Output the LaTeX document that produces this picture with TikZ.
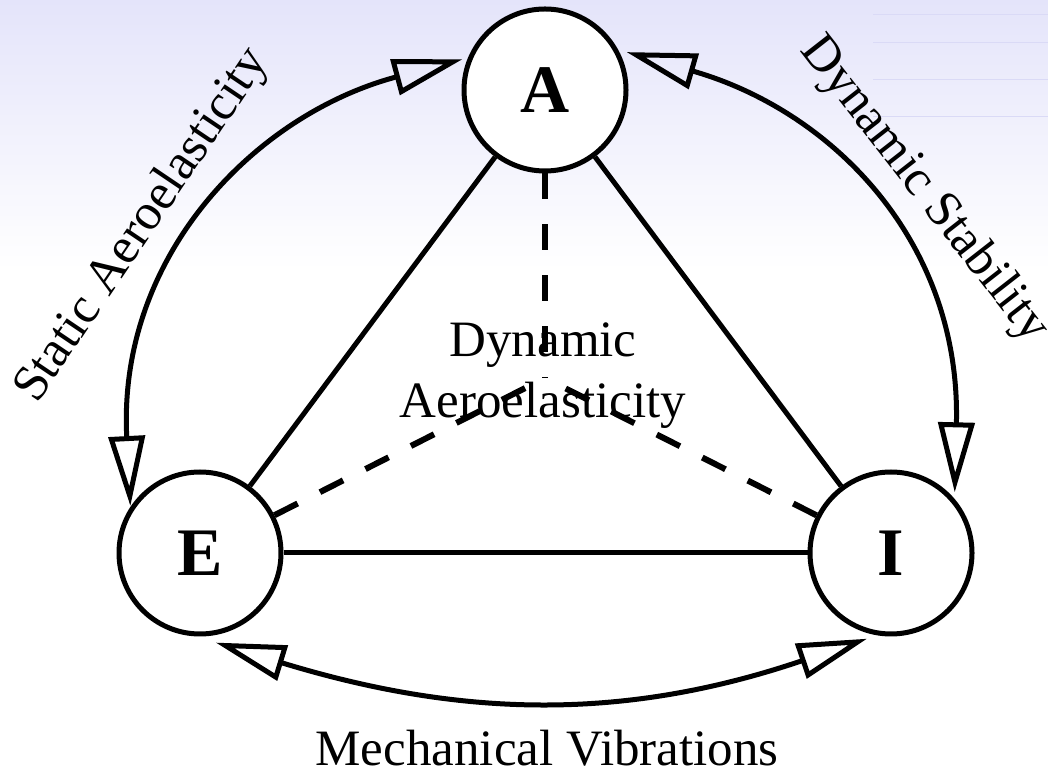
\documentclass[tikz,border=0pt]{standalone}
\usepackage{fontspec}
\setmainfont{Liberation Serif}
\usetikzlibrary{arrows.meta,calc}
\definecolor{lav}{RGB}{228,228,250}
\definecolor{lavline}{RGB}{218,218,246}
\tikzset{
  vertex/.style={circle,draw,line width=5pt,minimum size=162pt,inner sep=0pt,fill=white,
    font=\fontsize{68}{80}\selectfont\bfseries},
  solidlink/.style={line width=5pt},
  dashlink/.style={line width=6pt,dash pattern=on 26pt off 25pt},
  relation/.style={line width=5pt,
    {Triangle[open,length=70pt,width=36pt]}-{Triangle[open,length=70pt,width=36pt]}},
  label/.style={font=\fontsize{51}{61}\selectfont,inner sep=0pt}
}
\begin{document}
\begin{tikzpicture}[x=1pt,y=1pt]
\useasboundingbox (0,0) rectangle (1048,770);
\fill[white] (0,0) rectangle (1048,770);
\shade[top color=lav,bottom color=white] (0,500) rectangle (1048,770);
\foreach \yy in {755,727,690,653} \draw[lavline,line width=1pt] (873,\yy) -- (1048,\yy);

\node[vertex] (A) at (545,680) {A};
\node[vertex] (E) at (200,217) {E};
\node[vertex] (I) at (891,217) {I};
\coordinate (c) at (545,392);

\draw[solidlink] (A) -- (E);
\draw[solidlink] (A) -- (I);
\draw[solidlink] (E) -- (I);

\draw[dashlink] (A) -- (c);
\draw[dashlink] (E) -- (c);
\draw[dashlink] (I) -- (c);

\node[label,align=center] (dyn) at (543,394) {Dynamic\\Aeroelasticity};

\draw[relation] ($(E)+(146:84)$) .. controls +(93:250) and +(195:215) .. ($(A)+(159.5:88)$);
\draw[relation] ($(A)+(24.9:90)$) .. controls +(-16:215) and +(88.6:250) .. ($(I)+(43.6:88)$);
\draw[relation] ($(E)+(-80:91)$) .. controls +(-17:257) and +(-161.3:257) .. ($(I)+(-105.6:89)$);

\node[label,rotate=56] (sa) at (143,544) {Static Aeroelasticity};
\node[label,rotate=-52] (ds) at (924,580) {Dynamic Stability};
\node[label,anchor=base] (mv) at (547,5) {Mechanical Vibrations};
\end{tikzpicture}
\end{document}
